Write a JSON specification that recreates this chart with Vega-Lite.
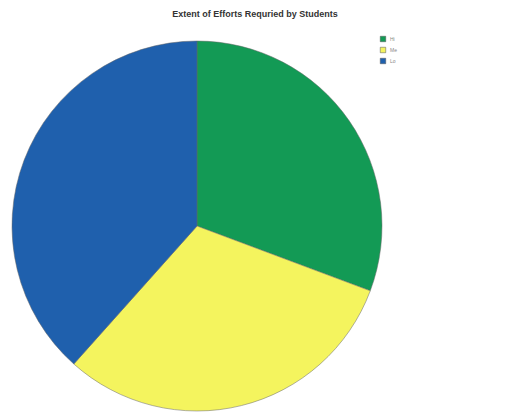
{
  "$schema": "https://vega.github.io/schema/vega-lite/v6.json",
  "autosize": {"type": "none"},
  "width": 370,
  "height": 370,
  "padding": {"left": 12, "top": 41, "right": 126, "bottom": 1},
  "background": "white",
  "title": {
    "text": "Extent of Efforts Requried by Students",
    "anchor": "middle",
    "frame": "group",
    "dx": 58,
    "offset": 17,
    "fontSize": 9,
    "fontWeight": "bold",
    "font": "Liberation Sans",
    "color": "#333333"
  },
  "data": {
    "values": [
      {"level": "Hi", "share": 30.7, "order": 1},
      {"level": "Me", "share": 30.9, "order": 2},
      {"level": "Lo", "share": 38.4, "order": 3}
    ]
  },
  "mark": {"type": "arc", "outerRadius": 185, "stroke": "#666666", "strokeWidth": 0.5},
  "encoding": {
    "theta": {"field": "share", "type": "quantitative", "stack": true},
    "order": {"field": "order", "type": "quantitative"},
    "color": {
      "field": "level",
      "type": "nominal",
      "sort": ["Hi", "Me", "Lo"],
      "scale": {"domain": ["Hi", "Me", "Lo"], "range": ["#139a55", "#f4f45e", "#1f60ad"]},
      "legend": {
        "title": null,
        "orient": "none",
        "legendX": 368,
        "legendY": -5,
        "symbolType": "square",
        "symbolSize": 30,
        "symbolStrokeWidth": 0.5,
        "symbolStrokeColor": "#555555",
        "labelFontSize": 5,
        "labelColor": "#888888",
        "rowPadding": 3
      }
    }
  },
  "config": {"view": {"stroke": null}}
}
